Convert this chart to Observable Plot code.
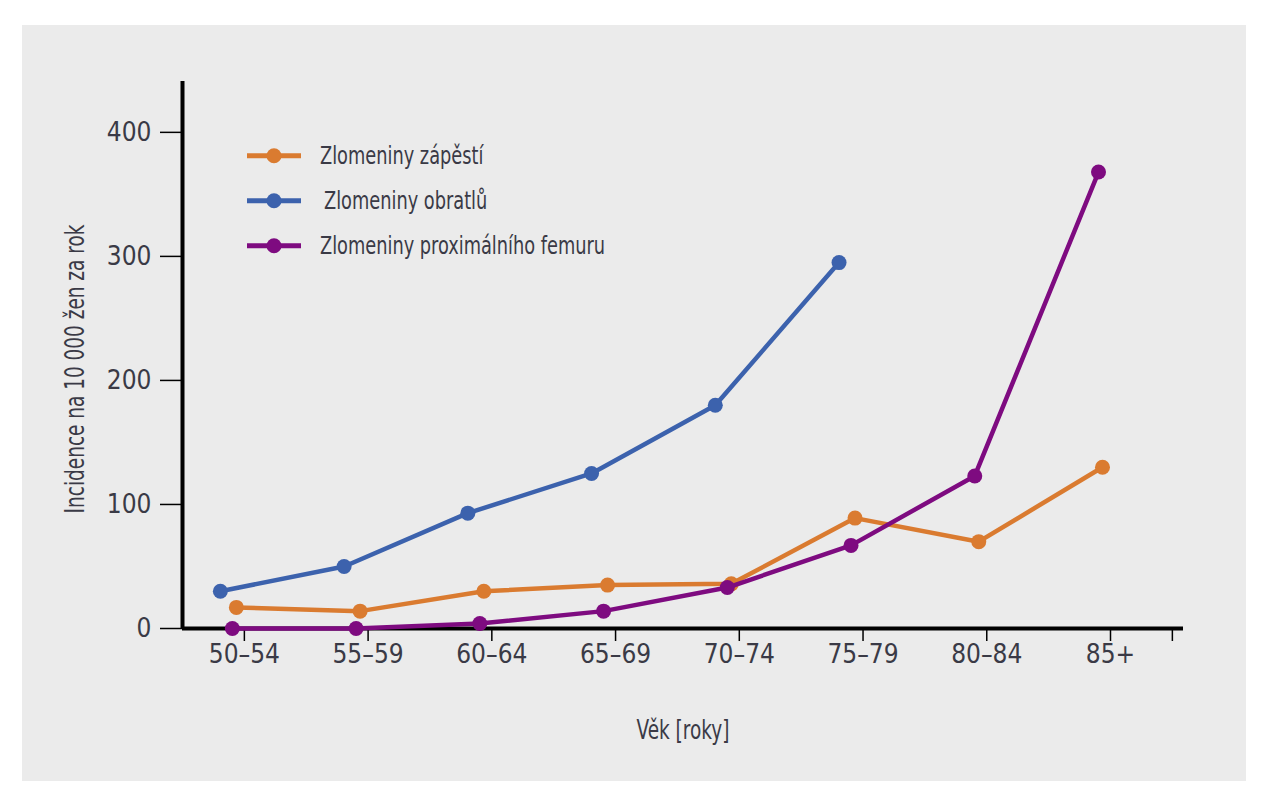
<!DOCTYPE html>
<html lang="cs">
<head>
<meta charset="utf-8">
<script src="https://cdn.jsdelivr.net/npm/d3@7"></script>
<script src="https://cdn.jsdelivr.net/npm/@observablehq/plot@0.6"></script>
<style>
  html, body { margin: 0; padding: 0; background: #ffffff; }
  #panel {
    position: absolute; left: 22px; top: 25px; width: 1224px; height: 756px;
    background: #ebebeb; overflow: hidden;
  }
  #panel > svg { position: absolute; left: 0; top: 0; }
</style>
</head>
<body>
<div id="panel"></div>
<script>
// Age groups on the x axis
const ageGroups = ["50–54", "55–59", "60–64", "65–69", "70–74", "75–79", "80–84", "85+"];
const yTicks = [0, 100, 200, 300, 400];

// Incidence per 10 000 women per year
const wristValues = [17, 14, 30, 35, 36, 89, 70, 130];
const vertebralValues = [30, 50, 93, 125, 180, 295];
const hipValues = [0, 0, 4, 14, 33, 67, 123, 368];

const seriesNames = ["Zlomeniny zápěstí", "Zlomeniny obratlů", "Zlomeniny proximálního femuru"];
const seriesColors = ["#da7b30", "#3c62ad", "#7e0b80"];

const toRows = (name, values) => values.map((value, i) => ({series: name, age: ageGroups[i], value}));
const wrist = toRows(seriesNames[0], wristValues);
const vertebral = toRows(seriesNames[1], vertebralValues);
const hip = toRows(seriesNames[2], hipValues);

const ageIndex = d => ageGroups.indexOf(d.age);
const fontFamily = '"DejaVu Sans Condensed", "Liberation Sans Narrow", sans-serif';
const textColor = "#3a3a46";

// One line + dots per series; each series sits slightly left of its age tick
function series(rows, shift) {
  return [
    Plot.line(rows, {x: ageIndex, y: "value", stroke: "series", strokeWidth: 4.5, dx: shift, strokeLinejoin: "round"}),
    Plot.dot(rows, {x: ageIndex, y: "value", fill: "series", r: 7.5, dx: shift})
  ];
}

const chart = Plot.plot({
  width: 1224,
  height: 756,
  marginLeft: 160,
  marginRight: 63,
  marginTop: 56,
  marginBottom: 153,
  style: {background: "transparent", fontFamily, fontSize: "26px", color: textColor},
  x: {type: "linear", domain: [-0.5, 7.59], axis: null},
  y: {domain: [0, 441], axis: null},
  color: {domain: seriesNames, range: seriesColors},
  marks: [
    Plot.axisY({ticks: yTicks, tickSize: 22, tickPadding: 9, label: null, stroke: "#000", strokeWidth: 1.5, fontSize: 26, fill: textColor}),
    Plot.axisX({ticks: [...d3.range(ageGroups.length), ageGroups.length - 0.5], tickFormat: i => ageGroups[i] ?? "", tickSize: 13, tickPadding: 3, label: null, stroke: "#000", strokeWidth: 1.5, fontSize: 26, fill: textColor}),
    Plot.ruleX([-0.5], {stroke: "#000", strokeWidth: 4}),
    Plot.ruleY([0], {stroke: "#000", strokeWidth: 4}),
    Plot.text(["Věk [roky]"], {frameAnchor: "bottom", dy: 110, fontSize: 26, fill: textColor, className: "word-label"}),
    Plot.text(["Incidence na 10 000 žen za rok"], {frameAnchor: "left", textAnchor: "middle", rotate: -90, dx: -107, dy: 14, fontSize: 26, fill: textColor, className: "word-label"}),
    ...series(vertebral, -24),
    ...series(wrist, -8),
    ...series(hip, -12)
  ]
});

const panel = document.getElementById("panel");
panel.appendChild(chart);

// Legend in the upper-left corner of the plot area
const legend = d3.select(panel).append("svg")
  .attr("width", 1224).attr("height", 756)
  .style("position", "absolute").style("left", 0).style("top", 0)
  .attr("font-family", fontFamily);
seriesNames.forEach((name, i) => {
  const g = legend.append("g").attr("transform", `translate(225,${130.7 + 45 * i})`);
  g.append("line").attr("x1", 0).attr("x2", 54).attr("stroke", seriesColors[i]).attr("stroke-width", 5);
  g.append("circle").attr("cx", 27).attr("r", 7.5).attr("fill", seriesColors[i]);
  g.append("text").attr("class", "legend-text")
    .attr("x", i === 1 ? 77 : 73).attr("dy", "0.35em")
    .attr("font-size", 25).attr("fill", textColor).text(name);
});

// Narrow the word labels so they read like a condensed face
function condense(el, factor) {
  const w = el.getComputedTextLength();
  el.setAttribute("textLength", (w * factor).toFixed(1));
  el.setAttribute("lengthAdjust", "spacingAndGlyphs");
}
panel.querySelectorAll(".word-label text, text.legend-text").forEach(el => condense(el, 0.79));
</script>
</body>
</html>
